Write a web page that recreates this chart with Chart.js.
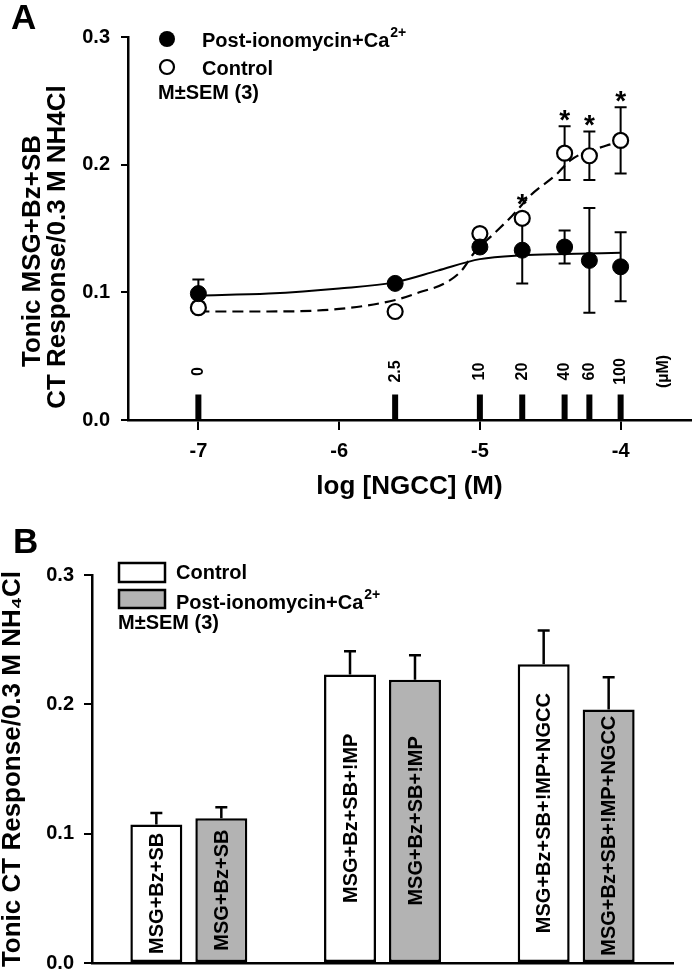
<!DOCTYPE html>
<html><head><meta charset="utf-8">
<script src="https://cdn.jsdelivr.net/npm/chart.js@4"></script>
<style>
html,body{margin:0;padding:0;background:#fff;}
#wrapA{position:absolute;left:0;top:0;width:693px;height:500px;}
#wrapB{position:absolute;left:0;top:500px;width:693px;height:470px;}
canvas{display:block;}
</style></head><body>
<div id="wrapA"><canvas id="cA" width="693" height="500"></canvas></div>
<div id="wrapB"><canvas id="cB" width="693" height="470"></canvas></div>
<script>
// ---------- Panel A data ----------
const concLabels = ['0', '2.5', '10', '20', '40', '60', '100'];
const logConc = [-7, -5.602, -5, -4.699, -4.398, -4.222, -4];
const postMean = [0.099, 0.107, 0.1355, 0.133, 0.1355, 0.125, 0.120];
const postSEM  = [0.011, 0.003, 0.003, 0.026, 0.013, 0.041, 0.027];
const ctrlMean = [0.088, 0.085, 0.146, 0.158, 0.209, 0.207, 0.219];
const ctrlSEM  = [0.004, 0.003, 0.003, 0.004, 0.021, 0.019, 0.026];
const ctrlSig  = [false, false, false, true, true, true, true];
const fitPostX = [-7, -6.5, -6, -5.6, -5.3, -5, -4.7, -4.4, -4];
const fitPostY = [0.0975, 0.099, 0.103, 0.108, 0.117, 0.126, 0.129, 0.130, 0.131];
const fitCtrlX = [-7, -6.5, -6, -5.6, -5.43, -5.25, -5.13, -5.04, -4.9, -4.77, -4.64, -4.46, -4.35, -4.1, -4];
const fitCtrlY = [0.085, 0.085, 0.087, 0.094, 0.100, 0.107, 0.117, 0.131, 0.146, 0.160, 0.176, 0.192, 0.204, 0.215, 0.218];
const concMarkHeight = 0.02;
const xTicksA = [-7, -6, -5, -4];
const yTicksA = [0, 0.1, 0.2, 0.3];

// ---------- Panel B data ----------
const barCats = ['MSG+Bz+SB', 'MSG+Bz+SB+!MP', 'MSG+Bz+SB+!MP+NGCC'];
const barCtrl = [0.107, 0.223, 0.231];
const barCtrlSEM = [0.009, 0.018, 0.026];
const barPost = [0.112, 0.219, 0.196];
const barPostSEM = [0.0085, 0.019, 0.025];
const yTicksB = [0, 0.1, 0.2, 0.3];

const FAM = '"Liberation Sans", Arial, Helvetica, sans-serif';
const fnt = s => `bold ${s}px ${FAM}`;
Chart.defaults.font.family = FAM;
Chart.defaults.font.weight = 'bold';
Chart.defaults.color = '#000';

function supText(ctx, base, sup, x, y, size, supSize, rise) {
  ctx.font = fnt(size);
  ctx.textAlign = 'left';
  ctx.textBaseline = 'alphabetic';
  ctx.fillText(base, x, y);
  const w = ctx.measureText(base).width;
  ctx.font = fnt(supSize);
  ctx.fillText(sup, x + w + 1, y - rise);
}

// ---------- Panel A ----------
const markData = [];
logConc.forEach(v => { markData.push({x: v, y: 0}, {x: v, y: concMarkHeight}, {x: v, y: null}); });

const annotA = {
  id: 'annotA',
  beforeDatasetsDraw(chart) {
    const {ctx, scales: {x, y}} = chart;
    ctx.save();
    ctx.strokeStyle = '#000'; ctx.lineWidth = 2;
    const draw = (m, s) => m.forEach((v, i) => {
      const px = x.getPixelForValue(logConc[i]);
      const t = y.getPixelForValue(v + s[i]), b = y.getPixelForValue(v - s[i]);
      ctx.beginPath();
      ctx.moveTo(px, t); ctx.lineTo(px, b);
      ctx.moveTo(px - 6, t); ctx.lineTo(px + 6, t);
      ctx.moveTo(px - 6, b); ctx.lineTo(px + 6, b);
      ctx.stroke();
    });
    draw(ctrlMean, ctrlSEM);
    draw(postMean, postSEM);
    ctx.restore();
  },
  afterDatasetsDraw(chart) {
    const {ctx, scales: {x, y}} = chart;
    ctx.save();
    ctx.fillStyle = '#000';
    // asterisks
    ctx.font = fnt(28); ctx.textAlign = 'center'; ctx.textBaseline = 'alphabetic';
    ctrlSig.forEach((s, i) => {
      if (!s) return;
      const px = x.getPixelForValue(logConc[i]);
      const top = Math.min(y.getPixelForValue(ctrlMean[i] + ctrlSEM[i]), y.getPixelForValue(ctrlMean[i]) - 8);
      ctx.fillText('*', px, top + 3);
    });
    // concentration labels
    ctx.font = fnt(16);
    const ly = y.getPixelForValue(0.038);
    concLabels.forEach((l, i) => {
      ctx.save();
      ctx.translate(x.getPixelForValue(logConc[i]), ly);
      ctx.rotate(-Math.PI / 2);
      ctx.textAlign = 'center'; ctx.textBaseline = 'middle';
      ctx.fillText(l, 0, 0);
      ctx.restore();
    });
    ctx.save();
    ctx.font = fnt(16);
    ctx.translate(664, ly);
    ctx.rotate(-Math.PI / 2);
    ctx.textAlign = 'center'; ctx.textBaseline = 'middle';
    ctx.fillText('(\u00B5M)', 0, 0);
    ctx.restore();
    // panel letter
    ctx.font = fnt(35); ctx.textAlign = 'left'; ctx.textBaseline = 'alphabetic';
    ctx.fillText('A', 11, 29);
    // y title
    ctx.save();
    ctx.font = fnt(26);
    ctx.textAlign = 'center'; ctx.textBaseline = 'alphabetic';
    ctx.translate(40, 251); ctx.rotate(-Math.PI / 2);
    ctx.fillText('Tonic MSG+Bz+SB', 0, 0);
    ctx.restore();
    ctx.save();
    ctx.font = fnt(26);
    ctx.textAlign = 'center'; ctx.textBaseline = 'alphabetic';
    ctx.translate(65, 247); ctx.rotate(-Math.PI / 2);
    ctx.fillText('CT Response/0.3 M NH4Cl', 0, 0);
    ctx.restore();
    // legend
    const ds = chart.data.datasets;
    ctx.beginPath(); ctx.arc(167, 39, 8, 0, 2 * Math.PI); ctx.fillStyle = '#000'; ctx.fill();
    ctx.beginPath(); ctx.arc(167, 67, 7, 0, 2 * Math.PI); ctx.fillStyle = '#fff'; ctx.fill();
    ctx.lineWidth = 2.2; ctx.strokeStyle = '#000'; ctx.stroke();
    ctx.fillStyle = '#000';
    supText(ctx, ds[4].label, '2+', 202, 47, 20, 14, 10);
    ctx.font = fnt(20); ctx.textAlign = 'left'; ctx.textBaseline = 'alphabetic';
    ctx.fillText(ds[3].label, 202, 75);
    ctx.fillText('M\u00B1SEM (3)', 158, 99);
    ctx.restore();
  }
};

new Chart(document.getElementById('cA'), {
  type: 'scatter',
  data: {
    datasets: [
      {label: 'marks', data: markData, showLine: true, spanGaps: false, borderColor: '#000', borderWidth: 6, pointRadius: 0, order: 5},
      {label: 'fitCtrl', data: fitCtrlX.map((v, i) => ({x: v, y: fitCtrlY[i]})), showLine: true, borderColor: '#000', borderWidth: 2.2, borderDash: [11, 6], pointRadius: 0, cubicInterpolationMode: 'monotone', order: 4},
      {label: 'fitPost', data: fitPostX.map((v, i) => ({x: v, y: fitPostY[i]})), showLine: true, borderColor: '#000', borderWidth: 2, pointRadius: 0, cubicInterpolationMode: 'monotone', order: 3},
      {label: 'Control', data: logConc.map((v, i) => ({x: v, y: ctrlMean[i]})), showLine: false, pointRadius: 7.5, pointBackgroundColor: '#fff', pointBorderColor: '#000', pointBorderWidth: 2.2, order: 2},
      {label: 'Post-ionomycin+Ca', data: logConc.map((v, i) => ({x: v, y: postMean[i]})), showLine: false, pointRadius: 8, pointBackgroundColor: '#000', pointBorderColor: '#000', pointBorderWidth: 1, order: 1}
    ]
  },
  options: {
    responsive: false, animation: false,
    layout: {autoPadding: false, padding: {top: 37, right: 2, left: 0, bottom: 0}},
    plugins: {legend: {display: false}, tooltip: {enabled: false}},
    scales: {
      x: {
        type: 'linear', min: -7.5, max: -3.5,
        afterBuildTicks: s => { s.ticks = xTicksA.map(v => ({value: v})); },
        afterFit: s => { s.height = 80; },
        ticks: {callback: v => String(v), font: {size: 20, weight: 'bold'}, color: '#000', padding: 9, maxRotation: 0},
        grid: {display: true, drawOnChartArea: false, drawTicks: true, tickLength: 10, color: '#000', lineWidth: 2},
        border: {display: true, color: '#000', width: 2.5},
        title: {display: true, text: 'log [NGCC] (M)', font: {size: 26, weight: 'bold', lineHeight: 1}, color: '#000', padding: {top: 0, bottom: 0}}
      },
      y: {
        type: 'linear', min: 0, max: 0.3,
        afterBuildTicks: s => { s.ticks = yTicksA.map(v => ({value: v})); },
        afterFit: s => { s.width = 128; },
        ticks: {callback: v => v.toFixed(1), font: {size: 20, weight: 'bold'}, color: '#000', padding: 11},
        grid: {display: true, drawOnChartArea: false, drawTicks: true, tickLength: 7, color: '#000', lineWidth: 2},
        border: {display: true, color: '#000', width: 2.5}
      }
    }
  },
  plugins: [annotA]
});

// ---------- Panel B ----------
const annotB = {
  id: 'annotB',
  afterDatasetsDraw(chart) {
    const {ctx, scales: {y}} = chart;
    ctx.save();
    ctx.strokeStyle = '#000'; ctx.fillStyle = '#000'; ctx.lineWidth = 2.5;
    const sems = [barCtrlSEM, barPostSEM];
    const means = [barCtrl, barPost];
    chart.data.datasets.forEach((d, di) => {
      const meta = chart.getDatasetMeta(di);
      meta.data.forEach((el, i) => {
        const t = y.getPixelForValue(means[di][i] + sems[di][i]);
        ctx.beginPath();
        ctx.moveTo(el.x, el.y); ctx.lineTo(el.x, t);
        ctx.moveTo(el.x - 6, t); ctx.lineTo(el.x + 6, t);
        ctx.stroke();
        ctx.save();
        ctx.translate(el.x, (el.y + el.base) / 2);
        ctx.rotate(-Math.PI / 2);
        ctx.font = fnt(20); ctx.textAlign = 'center'; ctx.textBaseline = 'middle';
        ctx.fillText(barCats[i], 0, 1);
        ctx.restore();
      });
    });
    // panel letter
    ctx.font = fnt(35); ctx.textAlign = 'left'; ctx.textBaseline = 'alphabetic';
    ctx.fillText('B', 13, 53);
    // legend
    const ds = chart.data.datasets;
    ctx.lineWidth = 2.5;
    ctx.fillStyle = ds[0].backgroundColor; ctx.fillRect(119, 63, 46, 19); ctx.strokeRect(119, 63, 46, 19);
    ctx.fillStyle = ds[1].backgroundColor; ctx.fillRect(119, 90, 46, 18); ctx.strokeRect(119, 90, 46, 18);
    ctx.fillStyle = '#000';
    ctx.font = fnt(20); ctx.textAlign = 'left'; ctx.textBaseline = 'alphabetic';
    ctx.fillText(ds[0].label, 176, 79);
    supText(ctx, ds[1].label, '2+', 176, 109, 20, 14, 10);
    ctx.font = fnt(20);
    ctx.fillText('M\u00B1SEM (3)', 118, 129);
    ctx.restore();
  }
};

new Chart(document.getElementById('cB'), {
  type: 'bar',
  data: {
    labels: barCats,
    datasets: [
      {label: 'Control', data: barCtrl, backgroundColor: '#ffffff', borderColor: '#000', borderWidth: 2.5, borderSkipped: false},
      {label: 'Post-ionomycin+Ca', data: barPost, backgroundColor: '#b3b3b3', borderColor: '#000', borderWidth: 2.5, borderSkipped: false}
    ]
  },
  options: {
    responsive: false, animation: false,
    categoryPercentage: 0.671, barPercentage: 0.8,
    layout: {autoPadding: false, padding: {top: 75, right: 20, left: 0, bottom: 0}},
    plugins: {legend: {display: false}, tooltip: {enabled: false}},
    scales: {
      x: {
        ticks: {display: false},
        grid: {display: false},
        border: {display: true, color: '#000', width: 2.5},
        afterFit: s => { s.height = 7; }
      },
      y: {
        type: 'linear', min: 0, max: 0.3,
        afterBuildTicks: s => { s.ticks = yTicksB.map(v => ({value: v})); },
        afterFit: s => { s.width = 92; s.paddingTop = 0; s.paddingBottom = 0; },
        ticks: {callback: v => v.toFixed(1), font: {size: 20, weight: 'bold'}, color: '#000', padding: 10},
        grid: {display: true, drawOnChartArea: false, drawTicks: true, tickLength: 8, color: '#000', lineWidth: 2},
        border: {display: true, color: '#000', width: 2.5},
        title: {display: true, text: 'Tonic CT Response/0.3 M NH\u2084Cl', font: {size: 26, weight: 'bold', lineHeight: 1}, color: '#000', padding: {top: 0, bottom: 0}}
      }
    }
  },
  plugins: [annotB]
});
</script></body></html>
